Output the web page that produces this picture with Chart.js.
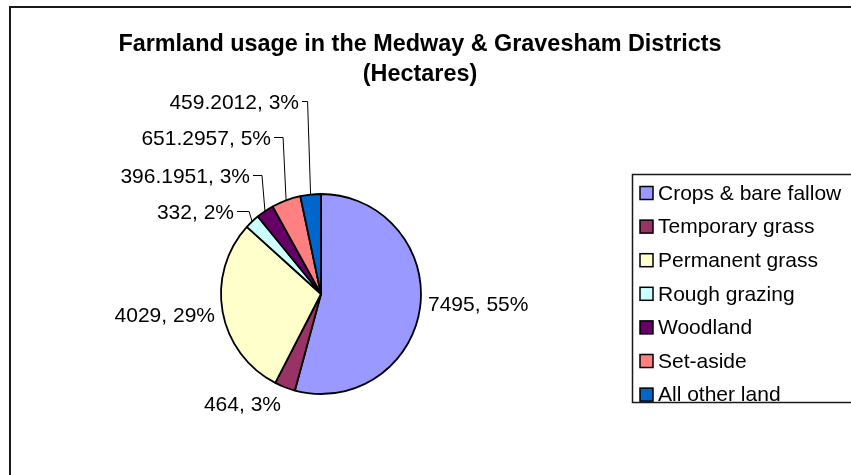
<!DOCTYPE html>
<html lang="en">
<head>
<meta charset="utf-8">
<title>Farmland usage</title>
<script src="https://cdn.jsdelivr.net/npm/chart.js@4/dist/chart.umd.min.js"></script>
<style>
  html, body { margin: 0; padding: 0; background: #fff; }
  #wrap { width: 851px; height: 475px; }
</style>
</head>
<body>
<div id="wrap"><canvas id="chartFarm" width="851" height="475"></canvas></div>
<script>
// data
const categories = ['Crops & bare fallow', 'Temporary grass', 'Permanent grass', 'Rough grazing', 'Woodland', 'Set-aside', 'All other land'];
const hectares = [7495, 464, 4029, 332, 396.1951, 651.2957, 459.2012];
const pctLabels = [55, 3, 29, 2, 3, 5, 3];
const titleLines = ['Farmland usage in the Medway & Gravesham Districts', '(Hectares)'];

const colours = ['#9999FF', '#993366', '#FFFFCC', '#CCFFFF', '#660066', '#FF8080', '#0066CC'];
const FONT = "'Liberation Sans', Arial, sans-serif";

// where each data label sits, relative to the pie centre (dx, dy), and whether it needs a leader line
const labelPlace = [
  {dx: 107, dy: 11, align: 'left', leader: false},
  {dx: -40, dy: 111, align: 'right', leader: false},
  {dx: -106, dy: 22, align: 'right', leader: false},
  {dx: -87, dy: -81, align: 'right', leader: true},
  {dx: -71, dy: -117, align: 'right', leader: true},
  {dx: -50, dy: -155, align: 'right', leader: true},
  {dx: -22, dy: -191, align: 'right', leader: true}
];

const decor = {
  id: 'decor',
  beforeDraw(chart) {
    const ctx = chart.ctx;
    ctx.save();
    ctx.fillStyle = '#fff';
    ctx.fillRect(0, 0, chart.width, chart.height);
    // outer frame (runs off the right and bottom of the window)
    ctx.strokeStyle = '#1a1a1a';
    ctx.lineWidth = 2;
    ctx.strokeRect(10, 7, 900, 520);
    // title
    ctx.fillStyle = '#000';
    ctx.font = 'bold 23.4px ' + FONT;
    ctx.textAlign = 'center';
    ctx.textBaseline = 'middle';
    ctx.fillText(titleLines[0], 420, 45);
    ctx.fillText(titleLines[1], 420, 75);
    ctx.restore();
  },
  afterDatasetsDraw(chart) {
    const ctx = chart.ctx;
    const arcs = chart.getDatasetMeta(0).data;
    const ds = chart.data.datasets[0];
    ctx.save();
    ctx.font = '21px ' + FONT;
    ctx.fillStyle = '#000';
    ctx.textBaseline = 'middle';
    arcs.forEach((arc, i) => {
      const p = labelPlace[i];
      const txt = ds.data[i] + ', ' + pctLabels[i] + '%';
      const tx = arc.x + p.dx, ty = arc.y + p.dy;
      ctx.textAlign = p.align;
      ctx.fillText(txt, tx, ty);
      if (p.leader) {
        const mid = (arc.startAngle + arc.endAngle) / 2;
        const ex = arc.x + Math.cos(mid) * arc.outerRadius;
        const ey = arc.y + Math.sin(mid) * arc.outerRadius;
        const right = p.align === 'right' ? tx : tx + ctx.measureText(txt).width;
        ctx.beginPath();
        ctx.strokeStyle = '#000';
        ctx.lineWidth = 1;
        ctx.moveTo(right + 3, Math.round(ty) - 1.5);
        ctx.lineTo(Math.max(right + 8, ex - 3), Math.round(ty) - 1.5);
        ctx.lineTo(ex, ey);
        ctx.stroke();
      }
    });

    // legend
    const lx = 632, ly = 174, lh = 228, rowH = 33.6;
    ctx.strokeStyle = '#1a1a1a';
    ctx.lineWidth = 1.5;
    ctx.strokeRect(lx + 0.5, ly + 0.5, 260, lh);
    ctx.textAlign = 'left';
    chart.data.labels.forEach((lab, i) => {
      const cy = ly + 19 + i * rowH;
      ctx.fillStyle = ds.backgroundColor[i];
      ctx.fillRect(lx + 8, cy - 6.5, 13, 13);
      ctx.strokeStyle = '#000';
      ctx.lineWidth = 1.5;
      ctx.strokeRect(lx + 8, cy - 6.5, 13, 13);
      ctx.fillStyle = '#000';
      ctx.fillText(lab, lx + 26, cy + 1);
    });
    ctx.restore();
  }
};

new Chart(document.getElementById('chartFarm'), {
  type: 'pie',
  data: {
    labels: categories,
    datasets: [{
      data: hectares,
      backgroundColor: colours,
      borderColor: '#000',
      borderWidth: 1.8,
      hoverOffset: 0,
      offset: 0
    }]
  },
  options: {
    responsive: false,
    animation: false,
    radius: 100,
    layout: { padding: { left: 221, right: 430, top: 194, bottom: 81 } },
    plugins: {
      legend: { display: false },
      title: { display: false },
      tooltip: { enabled: false }
    }
  },
  plugins: [decor]
});
</script>
</body>
</html>
